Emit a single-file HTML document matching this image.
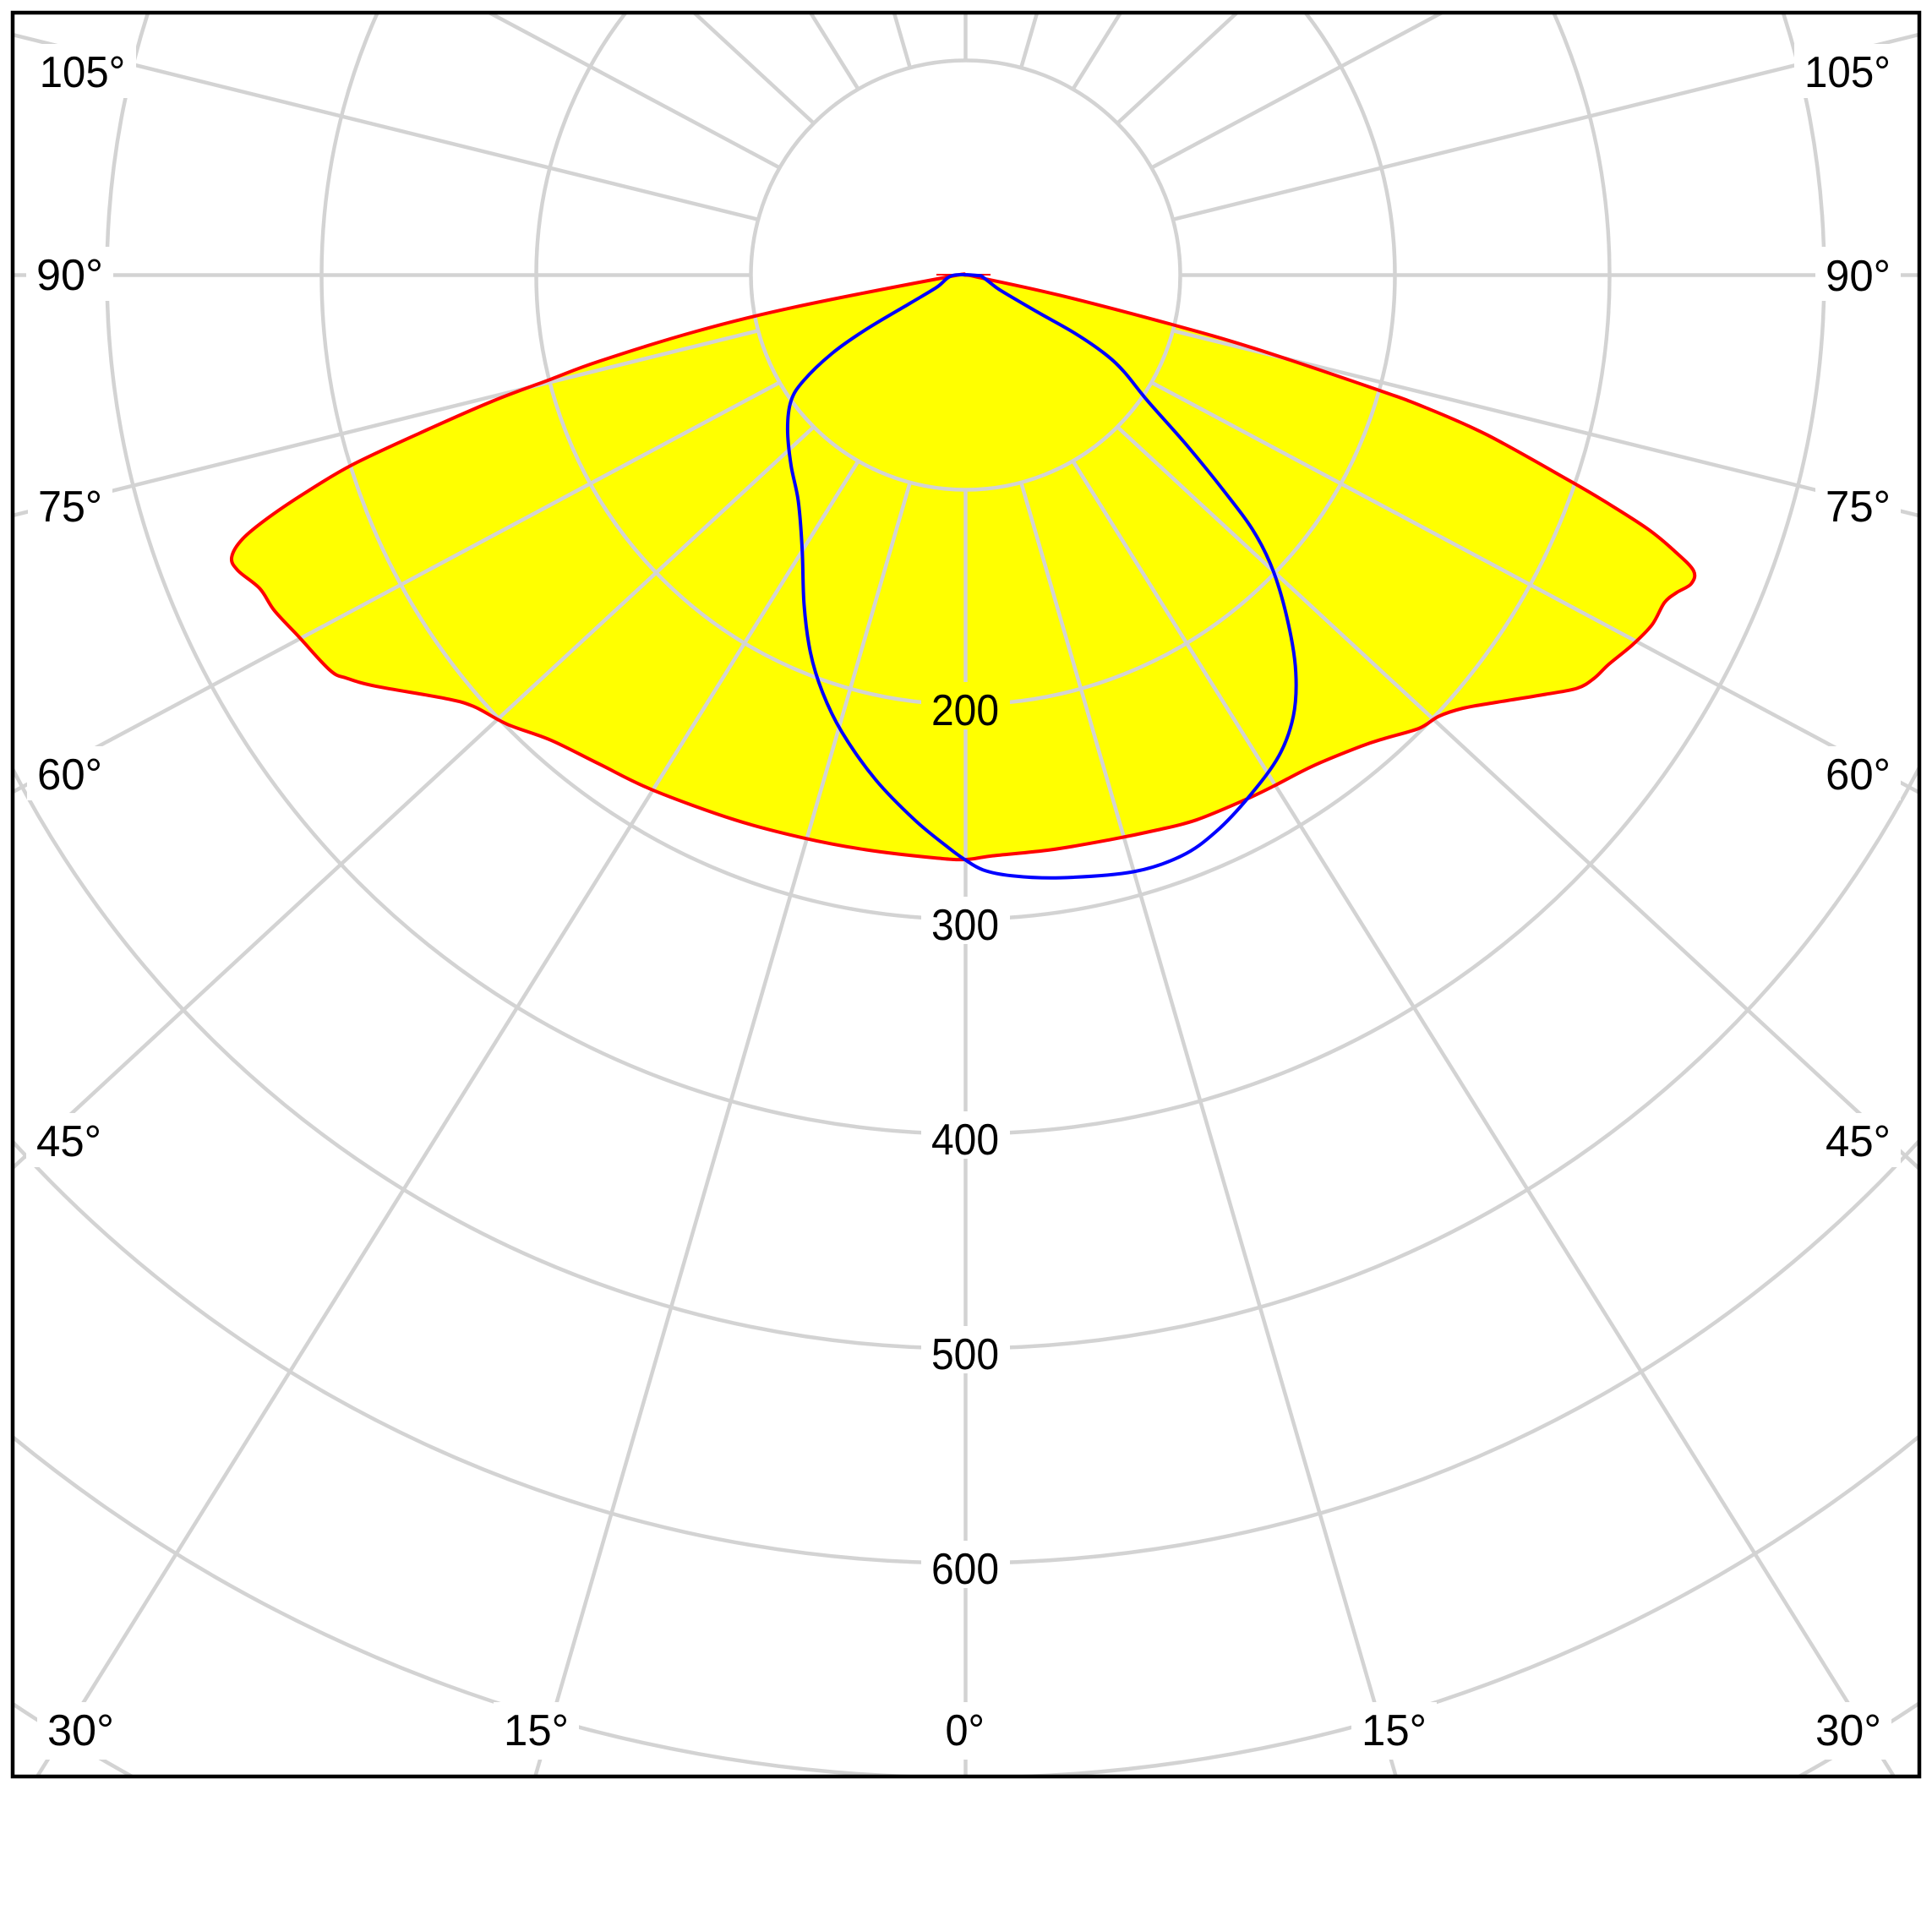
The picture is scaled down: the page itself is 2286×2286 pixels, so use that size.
<!DOCTYPE html>
<html>
<head>
<meta charset="utf-8">
<style>
  html, body { margin: 0; padding: 0; background: #ffffff; width: 2286px; height: 2286px; overflow: hidden; }
  svg { display: block; }
  text { font-family: "Liberation Sans", "DejaVu Sans", sans-serif; font-size: 52px; fill: #000; }
</style>
</head>
<body>
<svg width="2286" height="2286" viewBox="0 0 2286 2286" xmlns="http://www.w3.org/2000/svg">
  <defs>
    <clipPath id="frameClip">
      <rect x="15" y="15" width="2256" height="2087"/>
    </clipPath>
    <mask id="labelMask" maskUnits="userSpaceOnUse" x="0" y="0" width="2286" height="2286">
      <rect x="0" y="0" width="2286" height="2286" fill="#fff"/>
      <rect x="34" y="52" width="127" height="64" fill="#000"/>
      <rect x="31" y="292" width="103" height="64" fill="#000"/>
      <rect x="33" y="566" width="100" height="64" fill="#000"/>
      <rect x="32" y="883" width="101" height="64" fill="#000"/>
      <rect x="31" y="1317" width="101" height="64" fill="#000"/>
      <rect x="2123" y="52" width="127" height="64" fill="#000"/>
      <rect x="2148" y="292" width="101" height="64" fill="#000"/>
      <rect x="2148" y="566" width="101" height="64" fill="#000"/>
      <rect x="2148" y="883" width="101" height="64" fill="#000"/>
      <rect x="2148" y="1317" width="101" height="64" fill="#000"/>
      <rect x="44" y="2014" width="103" height="68" fill="#000"/>
      <rect x="584" y="2014" width="101" height="68" fill="#000"/>
      <rect x="1106" y="2014" width="71" height="68" fill="#000"/>
      <rect x="1599" y="2014" width="101" height="68" fill="#000"/>
      <rect x="2136" y="2014" width="102" height="68" fill="#000"/>
      <rect x="1090" y="807" width="105" height="56" fill="#000"/>
      <rect x="1090" y="1061" width="105" height="56" fill="#000"/>
      <rect x="1090" y="1315" width="105" height="56" fill="#000"/>
      <rect x="1090" y="1569" width="105" height="56" fill="#000"/>
      <rect x="1090" y="1823" width="105" height="56" fill="#000"/>
    </mask>
  </defs>

  <rect x="0" y="0" width="2286" height="2286" fill="#ffffff"/>

  <g clip-path="url(#frameClip)">
    <!-- yellow fill -->
    <polygon id="redFill" fill="#ffff00" stroke="none" points="
      1142.5,325.5 1119.6,328 938.8,363.7 824,392 709.2,427.4 651.8,448.7 582.9,474.6 496.8,512.4
      416.5,550.1 364.8,580.8 318.9,611.5 287.3,637.4 274.1,659.6 281.6,675.2 307.4,696.4 324.6,722.4
      353.3,753.1 390.6,793.2 410.7,802.6 445.2,812.1 525.5,826.2 560,835.7 600.1,856.9 651.8,875.8
      709.2,904.1 772.3,934.8 869.9,970.2 950.3,991.4 1024.9,1005.5 1105.2,1015 1142.5,1017
      1174.4,1012.6 1243.3,1005.5 1312.2,993.8 1369.6,982 1415.5,970.2 1472.9,946.5 1507.3,930
      1553.3,906.4 1610.7,882.9 1639.4,873.4 1679.5,861.6 1702.5,847.5 1731.2,838 1771.4,830.9
      1828.8,821.5 1866.1,814.4 1886.2,802.6 1903.4,786.1 1932.1,762.5 1955,738.9 1969.4,713
      1983.8,701.2 2001,690.8 2003.8,675.2 1980.9,651.6 1949.3,625.6 1897.7,592.6 1857.5,569
      1759.9,514.7 1685.3,481.7 1627.9,460.5 1484.4,412.3 1386.8,384 1254.8,349.6 1163,329.3"/>

    <!-- grid -->
    <g mask="url(#labelMask)">
      <g stroke="#d3d3d3" stroke-width="4.5" fill="none">
        <circle cx="1142.5" cy="325.5" r="254"/>
        <circle cx="1142.5" cy="325.5" r="508"/>
        <circle cx="1142.5" cy="325.5" r="762"/>
        <circle cx="1142.5" cy="325.5" r="1016"/>
        <path d="M 2271 908.1 A 1270 1270 0 0 1 15 910"/>
        <path d="M 2271 1349.7 A 1524 1524 0 0 1 15 1350.8"/>
        <path d="M 2271 1699.5 A 1778 1778 0 0 1 15 1700.3"/>
        <path d="M 15 2016 A 2032 2032 0 0 0 156.1 2102"/>
        <path d="M 2128.9 2102 A 2032 2032 0 0 0 2271 2015.3"/>
        <!-- radial lines (start on inner circle) -->
        <line x1="1142.5" y1="579.5" x2="1142.5" y2="2104"/>
        <line x1="1142.5" y1="71.5" x2="1142.5" y2="13"/>
        <!-- left -->
        <line x1="1076.76" y1="570.85" x2="632.7" y2="2104"/>
        <line x1="1015.5" y1="545.47" x2="42.8" y2="2104"/>
        <line x1="962.9" y1="505.1" x2="13" y2="1383.8"/>
        <line x1="922.53" y1="452.5" x2="13" y2="938.3"/>
        <line x1="897.15" y1="391.24" x2="13" y2="610.4"/>
        <line x1="888.5" y1="325.5" x2="13" y2="325.5"/>
        <line x1="897.15" y1="259.76" x2="13" y2="40.6"/>
        <line x1="922.53" y1="198.5" x2="575.2" y2="13"/>
        <line x1="962.9" y1="145.9" x2="819.2" y2="13"/>
        <line x1="1015.5" y1="105.53" x2="957.8" y2="13"/>
        <line x1="1076.76" y1="80.15" x2="1057.3" y2="13"/>
        <!-- right -->
        <line x1="1208.24" y1="570.85" x2="1652.3" y2="2104"/>
        <line x1="1269.5" y1="545.47" x2="2242.2" y2="2104"/>
        <line x1="1322.1" y1="505.1" x2="2272" y2="1383.8"/>
        <line x1="1362.47" y1="452.5" x2="2272" y2="938.3"/>
        <line x1="1387.85" y1="391.24" x2="2272" y2="610.4"/>
        <line x1="1396.5" y1="325.5" x2="2272" y2="325.5"/>
        <line x1="1387.85" y1="259.76" x2="2272" y2="40.6"/>
        <line x1="1362.47" y1="198.5" x2="1709.8" y2="13"/>
        <line x1="1322.1" y1="145.9" x2="1465.8" y2="13"/>
        <line x1="1269.5" y1="105.53" x2="1327.2" y2="13"/>
        <line x1="1208.24" y1="80.15" x2="1227.7" y2="13"/>
      </g>
    </g>

    <!-- red outline -->
    <line x1="1108" y1="325" x2="1172" y2="325" stroke="#ff0000" stroke-width="2"/>
    <polygon id="redLine" fill="none" stroke="#ff0000" stroke-width="4" stroke-linejoin="round" points="
      1142.5,325.5 1119.6,328 938.8,363.7 824,392 709.2,427.4 651.8,448.7 582.9,474.6 496.8,512.4
      416.5,550.1 364.8,580.8 318.9,611.5 287.3,637.4 274.1,659.6 281.6,675.2 307.4,696.4 324.6,722.4
      353.3,753.1 390.6,793.2 410.7,802.6 445.2,812.1 525.5,826.2 560,835.7 600.1,856.9 651.8,875.8
      709.2,904.1 772.3,934.8 869.9,970.2 950.3,991.4 1024.9,1005.5 1105.2,1015 1142.5,1017
      1174.4,1012.6 1243.3,1005.5 1312.2,993.8 1369.6,982 1415.5,970.2 1472.9,946.5 1507.3,930
      1553.3,906.4 1610.7,882.9 1639.4,873.4 1679.5,861.6 1702.5,847.5 1731.2,838 1771.4,830.9
      1828.8,821.5 1866.1,814.4 1886.2,802.6 1903.4,786.1 1932.1,762.5 1955,738.9 1969.4,713
      1983.8,701.2 2001,690.8 2003.8,675.2 1980.9,651.6 1949.3,625.6 1897.7,592.6 1857.5,569
      1759.9,514.7 1685.3,481.7 1627.9,460.5 1484.4,412.3 1386.8,384 1254.8,349.6 1163,329.3"/>

    <!-- blue outline -->
    <polygon id="blueLine" fill="none" stroke="#0000ff" stroke-width="4" stroke-linejoin="round" points="
      1157,326 1127,326 1108.1,340.1 1076.5,359 1024.9,389.7 984.7,418 950.3,451 935.9,474.6
      931.9,507.7 935.9,550.1 944.5,592.6 949.1,649.2 951.4,715.3 958.9,771.9 973.2,819.1
      996.2,866.3 1036.4,923 1082.3,970.2 1122.5,1003.2 1140,1016 1163,1029.2 1197.4,1036.2
      1254.8,1038.6 1340.9,1031.5 1398.3,1012.6 1438.5,984.3 1478.6,941.8 1513.1,894.6
      1530.3,847.5 1533.2,795.5 1524.6,738.9 1507.3,677.6 1484.4,630.4 1450,583.2 1404,526.5
      1358.1,474.6 1329.4,439.2 1306.5,418 1272,394.4 1226.1,368.4 1185.9,344.8 1174.4,336.8 1163,328"/>
  </g>

  <!-- labels -->
  <text x="46.7" y="103" textLength="101.6" lengthAdjust="spacingAndGlyphs">105°</text>
  <text x="43" y="343" textLength="79" lengthAdjust="spacingAndGlyphs">90°</text>
  <text x="45" y="617" textLength="76" lengthAdjust="spacingAndGlyphs">75°</text>
  <text x="44" y="934" textLength="77" lengthAdjust="spacingAndGlyphs">60°</text>
  <text x="43" y="1368" textLength="77" lengthAdjust="spacingAndGlyphs">45°</text>

  <text x="2135" y="103" textLength="102" lengthAdjust="spacingAndGlyphs">105°</text>
  <text x="2160" y="344" textLength="77" lengthAdjust="spacingAndGlyphs">90°</text>
  <text x="2160" y="617" textLength="77" lengthAdjust="spacingAndGlyphs">75°</text>
  <text x="2160" y="934" textLength="77" lengthAdjust="spacingAndGlyphs">60°</text>
  <text x="2160" y="1368" textLength="77" lengthAdjust="spacingAndGlyphs">45°</text>

  <text x="56" y="2065" textLength="79" lengthAdjust="spacingAndGlyphs">30°</text>
  <text x="596" y="2065" textLength="77" lengthAdjust="spacingAndGlyphs">15°</text>
  <text x="1118.5" y="2065" textLength="46.5" lengthAdjust="spacingAndGlyphs">0°</text>
  <text x="1611" y="2065" textLength="77" lengthAdjust="spacingAndGlyphs">15°</text>
  <text x="2148" y="2065" textLength="78" lengthAdjust="spacingAndGlyphs">30°</text>

  <text x="1102" y="858" textLength="80" lengthAdjust="spacingAndGlyphs">200</text>
  <text x="1102" y="1112" textLength="80" lengthAdjust="spacingAndGlyphs">300</text>
  <text x="1102" y="1366" textLength="80" lengthAdjust="spacingAndGlyphs">400</text>
  <text x="1102" y="1620" textLength="80" lengthAdjust="spacingAndGlyphs">500</text>
  <text x="1102" y="1874" textLength="80" lengthAdjust="spacingAndGlyphs">600</text>

  <!-- frame -->
  <rect x="15" y="15" width="2256" height="2087" fill="none" stroke="#000" stroke-width="4.5"/>
</svg>
<script>
(function(){
  try {
    var NS = "http://www.w3.org/2000/svg";
    ["redFill","redLine","blueLine"].forEach(function(id){
      var el = document.getElementById(id);
      if (!el) return;
      var raw = el.getAttribute("points").trim().split(/\s+/);
      var pts = raw.map(function(s){ var a = s.split(","); return [parseFloat(a[0]), parseFloat(a[1])]; });
      var n = pts.length;
      var d = "M" + pts[0][0] + "," + pts[0][1];
      for (var i = 0; i < n; i++) {
        var p0 = pts[(i - 1 + n) % n], p1 = pts[i], p2 = pts[(i + 1) % n], p3 = pts[(i + 2) % n];
        var c1x = p1[0] + (p2[0] - p0[0]) / 6, c1y = p1[1] + (p2[1] - p0[1]) / 6;
        var c2x = p2[0] - (p3[0] - p1[0]) / 6, c2y = p2[1] - (p3[1] - p1[1]) / 6;
        d += " C" + c1x.toFixed(1) + "," + c1y.toFixed(1) + " " + c2x.toFixed(1) + "," + c2y.toFixed(1) + " " + p2[0] + "," + p2[1];
      }
      d += " Z";
      var path = document.createElementNS(NS, "path");
      for (var j = 0; j < el.attributes.length; j++) {
        var at = el.attributes[j];
        if (at.name !== "points") path.setAttribute(at.name, at.value);
      }
      path.setAttribute("d", d);
      el.parentNode.replaceChild(path, el);
    });
  } catch (e) {}
})();
</script>
</body>
</html>
